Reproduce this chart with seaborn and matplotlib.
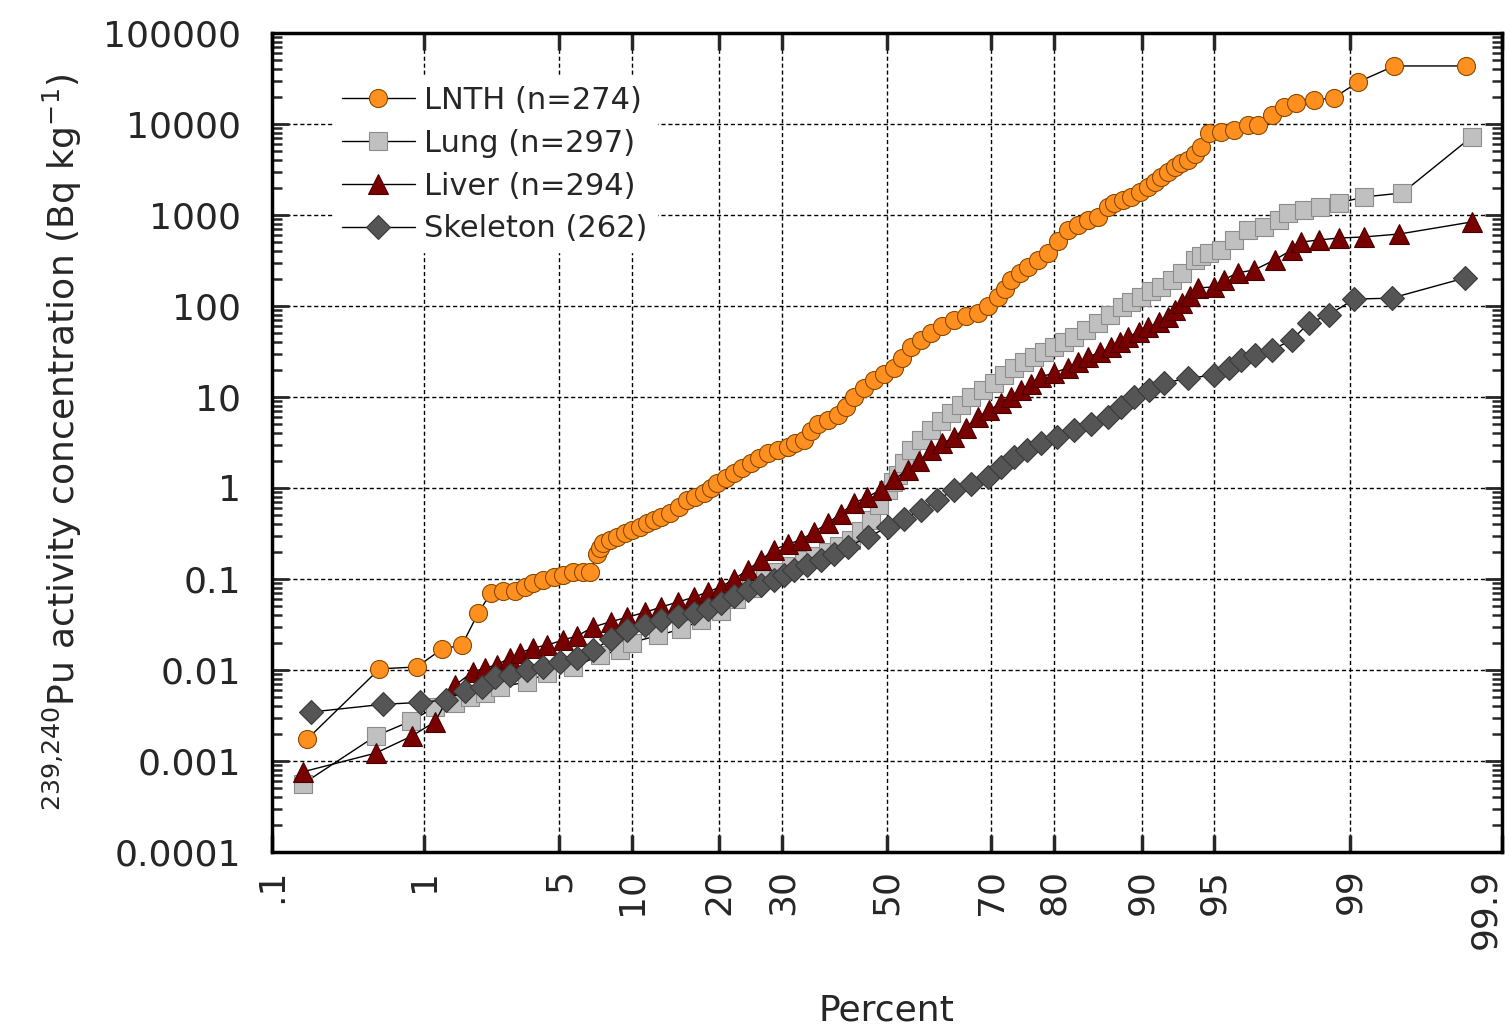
import numpy as np
import pandas as pd
import seaborn as sns
import matplotlib.pyplot as plt
from matplotlib.ticker import NullLocator, LogLocator
from statistics import NormalDist

sns.set_style("white")
plt.rcParams['font.family'] = ['DejaVu Sans']
plt.rcParams['mathtext.default'] = 'regular'

# data: cumulative percent and activity (Bq/kg)
lnth_pct = [0.18, 0.54, 0.91, 1.27, 1.64, 2.0, 2.33, 2.7, 3.1, 3.46, 3.78, 4.2, 4.7, 5.2,
            5.76, 6.36, 6.8, 7.3, 7.5, 7.72, 8.2, 8.79, 9.4, 10.0, 10.7, 11.45, 12.1, 12.8,
            13.85, 14.8, 15.8, 16.8, 17.85, 18.8, 19.7, 20.9, 22.1, 23.4, 24.7, 26.1, 27.5,
            29.2, 30.9, 32.3, 33.8, 35.1, 36.4, 38.3, 40.3, 41.8, 43.4, 45.4, 47.4, 49.4,
            51.4, 53.1, 54.8, 56.8, 58.8, 61.0, 63.2, 65.4, 67.6, 69.4, 71.2, 72.3, 73.4,
            74.8, 76.1, 77.6, 79.1, 80.5, 81.9, 83.2, 84.4, 85.6, 86.7, 87.3, 88.2, 89.0,
            89.8, 90.55, 91.1, 91.6, 92.1, 92.6, 93.0, 93.5, 93.9, 94.3, 94.7, 95.36, 95.96,
            96.54, 96.9, 97.34, 97.69, 98.02, 98.4, 98.76, 99.11, 99.46, 99.82]
lnth_val = [0.00175, 0.0103, 0.0108, 0.017, 0.0188, 0.042, 0.070, 0.074, 0.074, 0.082,
            0.090, 0.0975, 0.105, 0.11, 0.119, 0.12, 0.12, 0.19, 0.22, 0.25, 0.27, 0.29,
            0.32, 0.345, 0.37, 0.41, 0.45, 0.48, 0.53, 0.62, 0.74, 0.80, 0.88, 1.0, 1.13,
            1.3, 1.46, 1.65, 1.88, 2.15, 2.43, 2.6, 2.8, 3.1, 3.37, 4.2, 5.0, 5.6, 6.3, 7.8,
            10, 12.5, 15.4, 18, 21, 27, 35, 42, 50, 60, 70, 77, 84, 100, 126, 155, 193, 230,
            268, 320, 382, 520, 684, 780, 880, 950, 1225, 1355, 1450, 1580, 1800, 2030,
            2300, 2620, 3000, 3370, 3700, 4020, 4700, 5580, 7960, 8170, 8600, 9750, 9750,
            12600, 15400, 17000, 18400, 19300, 29000, 43400, 43400]

lung_pct = [0.167, 0.51, 0.84, 1.16, 1.5, 1.81, 2.18, 2.6, 3.54, 4.4, 5.76, 7.5, 9.0, 10.0,
            12.5, 15.0, 17.5, 20.2, 22.4, 24.7, 27.0, 29.2, 31.5, 33.8, 36.0, 38.3, 40.5,
            42.8, 44.8, 46.8, 48.5, 50.2, 51.2, 52.2, 53.5, 54.8, 56.8, 58.8, 60.7, 62.6,
            64.5, 66.4, 68.5, 70.5, 72.2, 73.9, 75.5, 77.0, 78.5, 80.0, 81.4, 82.7, 84.2,
            85.6, 86.9, 88.1, 89.0, 89.9, 90.8, 91.6, 92.4, 93.1, 93.9, 94.3, 94.7, 95.36,
            95.96, 96.54, 97.08, 97.55, 97.82, 98.19, 98.52, 98.84, 99.18, 99.52, 99.835]
lung_val = [0.00056, 0.00188, 0.00275, 0.0039, 0.0043, 0.005, 0.0056, 0.0065, 0.0074, 0.0093,
            0.0108, 0.0145, 0.0166, 0.02, 0.024, 0.028, 0.035, 0.045, 0.06, 0.08, 0.1, 0.12,
            0.14, 0.16, 0.18, 0.2, 0.23, 0.27, 0.34, 0.45, 0.65, 0.95, 1.15, 1.4, 1.9, 2.6,
            3.4, 4.3, 5.4, 6.7, 8.2, 10, 12, 14.2, 17.5, 21, 24, 27.5, 31, 35, 40, 45.6, 54,
            65, 80, 97, 110, 126, 145, 162, 195, 231, 320, 350, 382, 412, 531, 684, 738, 880,
            1050, 1135, 1225, 1355, 1580, 1745, 7200]

liver_pct = [0.167, 0.51, 0.85, 1.16, 1.5, 1.87, 2.18, 2.5, 2.92, 3.27, 3.78, 4.4, 5.2, 6.0,
             7.0, 8.3, 9.6, 11.2, 12.8, 14.7, 16.6, 18.4, 20.2, 22.2, 24.2, 26.3, 28.5, 30.9,
             33.3, 35.8, 38.3, 40.8, 43.4, 46.1, 48.8, 51.5, 54.2, 56.5, 58.8, 61.0, 63.2,
             65.4, 67.6, 69.7, 71.7, 73.4, 75.0, 76.6, 78.1, 80.0, 81.9, 83.2, 84.4, 85.8,
             87.0, 87.9, 88.7, 89.7, 90.55, 91.4, 92.1, 92.6, 93.1, 93.6, 94.1, 95.0, 95.5,
             96.1, 96.76, 97.43, 97.9, 98.14, 98.5, 98.84, 99.17, 99.5, 99.835]
liver_val = [0.00076, 0.00122, 0.00188, 0.0027, 0.0068, 0.0095, 0.0105, 0.0114, 0.0136,
             0.0154, 0.0175, 0.0188, 0.0214, 0.0237, 0.0297, 0.034, 0.038, 0.043, 0.049,
             0.056, 0.063, 0.072, 0.082, 0.1, 0.126, 0.16, 0.21, 0.24, 0.27, 0.33, 0.41,
             0.52, 0.68, 0.8, 0.95, 1.25, 1.58, 2.0, 2.6, 3.1, 3.6, 4.6, 6.0, 7.2, 8.6, 10.1,
             11.9, 14, 16.6, 18.5, 21, 24, 27.5, 31, 35, 40, 45.6, 52, 58.7, 66, 75, 90, 107,
             130, 158, 162, 195, 231, 249, 320, 412, 505, 531, 558, 573, 618, 838]

skel_pct = [0.19, 0.57, 0.95, 1.34, 1.7, 2.1, 2.45, 2.92, 3.54, 4.2, 5.05, 6.0, 7.0, 8.3,
            9.6, 11.2, 12.8, 14.7, 16.6, 18.4, 20.2, 22.2, 24.2, 26.3, 28.5, 30.2, 32.0,
            34.5, 37.0, 39.6, 42.2, 46.2, 50.2, 53.5, 56.8, 60.0, 63.2, 66.3, 69.4, 71.7,
            73.9, 76.0, 78.1, 80.4, 82.7, 84.8, 86.7, 88.0, 89.3, 90.6, 91.8, 93.5, 95.0,
            95.7, 96.26, 96.8, 97.34, 97.9, 98.3, 98.68, 99.06, 99.44, 99.816]
skel_val = [0.00345, 0.0042, 0.0044, 0.0047, 0.0059, 0.0065, 0.0084, 0.0088, 0.01, 0.0108,
            0.0122, 0.0136, 0.0165, 0.022, 0.0275, 0.031, 0.0354, 0.039, 0.042, 0.047,
            0.054, 0.065, 0.076, 0.086, 0.0975, 0.11, 0.126, 0.144, 0.162, 0.19, 0.225,
            0.29, 0.37, 0.46, 0.57, 0.74, 0.95, 1.1, 1.32, 1.7, 2.2, 2.6, 3.1, 3.6, 4.3,
            5.1, 6.0, 7.8, 10, 12, 14.3, 16, 17.5, 21, 25.5, 29, 33, 42, 65, 80, 119, 122,
            203]

labels = ['LNTH (n=274)', 'Lung (n=297)', 'Liver (n=294)', 'Skeleton (262)']
xticks = [0.1, 1, 5, 10, 20, 30, 50, 70, 80, 90, 95, 99, 99.9]
xticklabels = ['.1', '1', '5', '10', '20', '30', '50', '70', '80', '90', '95', '99', '99.9']
yticks = [1e-4, 1e-3, 1e-2, 1e-1, 1, 10, 100, 1000, 1e4, 1e5]
yticklabels = ['0.0001', '0.001', '0.01', '0.1', '1', '10', '100', '1000', '10000', '100000']

# normal probability scale for the x axis
_nd = NormalDist()
_ppf = np.vectorize(lambda v: _nd.inv_cdf(v), otypes=[float])
_cdf = np.vectorize(lambda v: _nd.cdf(v), otypes=[float])

def fwd(p):
    p = np.clip(np.asarray(p, dtype=float) / 100.0, 1e-6, 1 - 1e-6)
    return _ppf(p)

def inv(z):
    return _cdf(np.asarray(z, dtype=float)) * 100.0

fig = plt.figure(figsize=(15.1, 10.3), dpi=100)
ax = fig.add_axes([0.180, 0.1728, 0.8146, 0.7952])
ax.set_xscale('function', functions=(fwd, inv))
ax.set_yscale('log')

series = {
    'LNTH': (lnth_pct, lnth_val, 'o', 13, '#ff9020', '#8a4a00'),
    'Lung': (lung_pct, lung_val, 's', 13, '#c0c0c0', '#8c8c8c'),
    'Liver': (liver_pct, liver_val, '^', 14.5, '#780000', '#4a0000'),
    'Skeleton': (skel_pct, skel_val, 'D', 12, '#555555', '#3a3a3a'),
}
draw_order = ['Lung', 'Liver', 'Skeleton', 'LNTH']
names = ['LNTH', 'Lung', 'Liver', 'Skeleton']
handles = {}
for name in draw_order:
    pct, val, mk, ms, fc, ec = series[name]
    df = pd.DataFrame({'pct': pct, 'val': val})
    sns.lineplot(data=df, x='pct', y='val', ax=ax, sort=False, estimator=None,
                 color='black', linewidth=1.0, marker=mk, markersize=ms,
                 markerfacecolor=fc, markeredgecolor=ec, markeredgewidth=0.8,
                 label=labels[names.index(name)], zorder=3)
    handles[name] = ax.lines[-1]

ax.set_xlim(0.1, 99.9)
ax.set_ylim(1e-4, 1e5)
ax.set_xticks(xticks)
ax.set_xticklabels(xticklabels, rotation=90, va='top')
ax.xaxis.set_minor_locator(NullLocator())
ax.set_yticks(yticks)
ax.set_yticklabels(yticklabels)
ax.yaxis.set_minor_locator(LogLocator(base=10, subs=np.arange(2, 10)))

# keep the last x label inside the figure
ax.get_xticklabels()[-1].set_ha('right')

ax.grid(True, which='major', color='black', linestyle=(0, (3, 2)), linewidth=1.0, zorder=1)
ax.tick_params(axis='x', which='major', direction='in', top=True, bottom=True,
               length=12, width=2.5, labelsize=26, pad=12)
ax.tick_params(axis='y', which='major', direction='in', left=True, right=True,
               length=12, width=2, labelsize=26, pad=22)
ax.tick_params(axis='y', which='minor', direction='in', left=True, right=True,
               length=7, width=1.8)
for s in ax.spines.values():
    s.set_linewidth(2.5)
    s.set_color('black')

ax.set_xlabel('Percent', fontsize=26, labelpad=32)
ax.set_ylabel('$^{239{,}240}$Pu activity concentration (Bq kg$^{-1}$)', fontsize=26,
              labelpad=14)

leg = ax.legend([handles[n] for n in names], labels, loc='upper left',
                bbox_to_anchor=(0.037, 0.965), fontsize=22, frameon=True, fancybox=False,
                framealpha=1, edgecolor='white', facecolor='white', handlelength=2.4,
                labelspacing=0.45, borderpad=0.3, handletextpad=0.3)
leg.set_zorder(5)

fig.savefig('out.png', dpi=100)
